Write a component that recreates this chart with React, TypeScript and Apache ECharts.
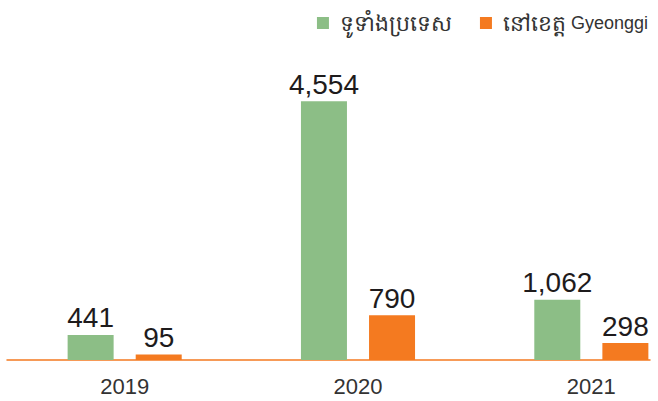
import React, { useEffect, useRef } from "react";
import * as echarts from "echarts";

const categories = ["2019", "2020", "2021"];
const nationwide = [441, 4554, 1062];
const gyeonggi = [95, 790, 298];
const seriesNames = ["ទូទាំងប្រទេស", "នៅខេត្ត Gyeonggi"];
const khmerParts = ["ទូទាំងប្រទេស", "នៅខេត្ត"];
const latinParts = ["", " Gyeonggi"];

const GREEN = "#8cbe86";
const ORANGE = "#f47a20";
const FONT = "'Liberation Sans', Arial, sans-serif";

export default function App() {
  const ref = useRef<HTMLDivElement>(null);
  useEffect(() => {
    if (!ref.current) return;
    const chart = echarts.init(ref.current, undefined, { renderer: "svg" });
    const labelStyle = {
      show: true,
      position: "top" as const,
      distance: 3,
      fontFamily: FONT,
      fontSize: 28,
      fontWeight: "normal" as const,
      color: "#1e1b1c",
      formatter: (p: any) => Number(p.value).toLocaleString("en-US"),
    };
    chart.setOption({
      animation: false,
      textStyle: { fontFamily: FONT },
      legend: {
        data: seriesNames,
        right: 5,
        top: 7,
        itemWidth: 12,
        itemHeight: 12,
        itemGap: 28,
        icon: "rect",
        formatter: (name: string) => {
          const i = seriesNames.indexOf(name);
          return "{k|" + khmerParts[i] + "}" + (latinParts[i] ? "{l|" + latinParts[i] + "}" : "");
        },
        textStyle: {
          fontSize: 18,
          color: "#333",
          fontFamily: FONT,
          rich: {
            k: { fontSize: 22, color: "#333", padding: [0, 0, 0, 6] },
            l: { fontSize: 18, color: "#333", fontFamily: FONT },
          },
        },
      },
      grid: [
        { left: 8, width: 700, top: 76, bottom: 41, containLabel: false, outerBoundsMode: "none" },
        { left: 7, right: 8, top: 76, bottom: 41, containLabel: false, outerBoundsMode: "none" },
      ],
      xAxis: [
        {
          type: "category",
          data: categories,
          gridIndex: 0,
          axisLine: { show: false },
          axisTick: { show: false },
          axisLabel: { fontSize: 22, color: "#333", margin: 15, fontFamily: FONT },
        },
        {
          type: "value",
          gridIndex: 1,
          min: 0,
          max: 1,
          axisLine: { show: true, lineStyle: { color: ORANGE, width: 1.5 } },
          axisTick: { show: false },
          axisLabel: { show: false },
          splitLine: { show: false },
        },
      ],
      yAxis: [
        { type: "value", gridIndex: 0, min: 0, max: 5000, show: false, splitLine: { show: false } },
        { type: "value", gridIndex: 1, min: 0, max: 1, show: false, splitLine: { show: false } },
      ],
      series: [
        {
          name: seriesNames[0],
          type: "bar",
          data: nationwide,
          barWidth: 46,
          barGap: "48%",
          itemStyle: { color: GREEN },
          label: labelStyle,
        },
        {
          name: seriesNames[1],
          type: "bar",
          data: gyeonggi,
          barWidth: 46,
          barGap: "48%",
          itemStyle: { color: ORANGE },
          label: labelStyle,
        },
      ],
    });
    return () => chart.dispose();
  }, []);
  return <div ref={ref} style={{ width: 658, height: 401, position: "absolute", left: 0, top: 0 }} />;
}
